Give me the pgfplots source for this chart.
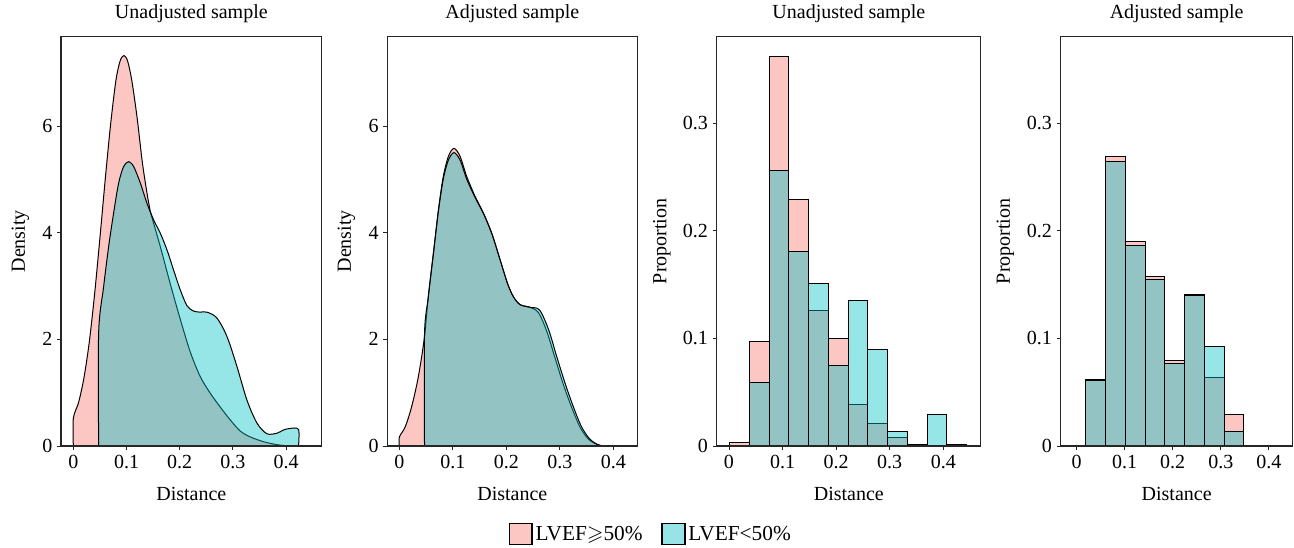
\documentclass[border=0pt]{standalone}
\usepackage{fontspec}
\setmainfont{Liberation Serif}
\usepackage{amssymb}
\usepackage{pgfplots}
\pgfplotsset{compat=1.18}

\definecolor{pinkc}{HTML}{F8766D}
\definecolor{cyanc}{HTML}{00BFC4}

\pgfplotsset{
  panel/.style={
    scale only axis, anchor=south west,
    height=307pt, ymin=0,
    axis line style={black!85, line width=0.8pt},
    tick align=outside, major tick length=3pt,
    tick style={black!85, line width=0.7pt},
    xtick pos=left, ytick pos=left,
    xtick={0,0.1,0.2,0.3,0.4},
    xticklabels={0,0.1,0.2,0.3,0.4},
    font=\fontsize{15}{18}\selectfont,
    ticklabel style={font=\fontsize{15}{18}\selectfont},
    title style={at={(axis description cs:0.5,1.0237)}, anchor=base},
    xlabel={Distance},
    xlabel style={at={(axis description cs:0.5,-0.132)}, anchor=base},
    axis on top,
  },
  denspanel/.style={panel, ymax=7.675, ytick={0,2,4,6}, yticklabels={0,2,4,6}, ylabel={Density}},
  histpanel/.style={panel, ymax=0.3802, ytick={0,0.1,0.2,0.3}, yticklabels={0,0.1,0.2,0.3}, ylabel={Proportion}},
  dens/.style={smooth, tension=0.5, draw=black, line width=0.75pt, fill opacity=0.41},
  hist/.style={ybar interval, draw=black, line width=0.75pt, fill opacity=0.41},
}

\begin{document}
\begin{tikzpicture}
\useasboundingbox (0,0) rectangle (970.5pt,411pt);

% panel 1: density, unadjusted
\begin{axis}[denspanel, at={(45.75pt,76.5pt)}, width=195.5pt,
  xmin=-0.0232, xmax=0.467,
  title={Unadjusted sample},
  ylabel style={at={(axis description cs:-0.156,0.5)}, anchor=center}]
\addplot[dens, fill=pinkc] coordinates {
(0,0) (0,0.52) (0.010,0.82) (0.020,1.28) (0.030,1.95) (0.040,2.85) (0.050,3.90)
(0.060,5.00) (0.070,6.02) (0.080,6.85) (0.088,7.22) (0.095,7.32) (0.102,7.22)
(0.110,6.85) (0.120,6.15) (0.130,5.30) (0.140,4.65) (0.1447,4.40) (0.1635,3.74)
(0.182,3.05) (0.201,2.38) (0.220,1.76) (0.2387,1.30) (0.2575,0.99) (0.2763,0.73)
(0.295,0.49) (0.3139,0.28) (0.3327,0.17) (0.3577,0.08) (0.383,0.025) (0.400,0.005) (0.405,0)
} \closedcycle;
\addplot[dens, fill=cyanc] coordinates {
(0.0476,0) (0.0476,2.12) (0.057,2.99) (0.0664,3.74) (0.0758,4.37) (0.0852,4.93)
(0.0946,5.24) (0.104,5.33) (0.1134,5.24) (0.126,4.93) (0.1385,4.55) (0.151,4.24)
(0.1635,3.99) (0.176,3.68) (0.1885,3.30) (0.201,2.93) (0.2137,2.63) (0.226,2.53)
(0.2385,2.51) (0.2513,2.51) (0.270,2.40) (0.289,2.05) (0.3077,1.49) (0.3265,0.86)
(0.3453,0.43) (0.364,0.23) (0.383,0.24) (0.395,0.30) (0.408,0.33) (0.4235,0.31) (0.4235,0)
} \closedcycle;
\end{axis}

% panel 2: density, adjusted
\begin{axis}[denspanel, at={(290.5pt,76.5pt)}, width=187.5pt,
  xmin=-0.0225, xmax=0.4448,
  title={Adjusted sample},
  ylabel style={at={(axis description cs:-0.164,0.5)}, anchor=center},
  legend columns=2,
  legend style={draw=none, at={(1.0548,-0.215)}, anchor=center,
    font=\fontsize{16}{19}\selectfont,
    /tikz/every even column/.append style={column sep=12pt}},
  legend image code/.code={\draw[#1, line width=1.2pt] (0pt,-8pt) rectangle (17pt,8pt);}]
\addplot[dens, fill=pinkc] coordinates {
(0,0) (0,0.17) (0.011,0.36) (0.023,0.74) (0.0355,1.30) (0.047,2.05) (0.054,2.80)
(0.0636,3.62) (0.073,4.43) (0.082,5.05) (0.0916,5.43) (0.102,5.58) (0.1135,5.43)
(0.126,5.05) (0.1415,4.68) (0.157,4.37) (0.1727,3.99) (0.188,3.50) (0.202,3.05)
(0.213,2.80) (0.2256,2.65) (0.2443,2.60) (0.260,2.50) (0.2755,2.15) (0.291,1.65)
(0.3066,1.15) (0.3222,0.72) (0.3378,0.35) (0.3533,0.13) (0.369,0.03) (0.380,0)
} \closedcycle;
\addplot[dens, fill=cyanc] coordinates {
(0.047,0) (0.047,2.10) (0.054,2.78) (0.0636,3.60) (0.073,4.40) (0.082,5.00)
(0.0916,5.36) (0.102,5.50) (0.1135,5.36) (0.126,5.00) (0.1415,4.66) (0.157,4.36)
(0.1727,3.98) (0.188,3.50) (0.202,3.05) (0.213,2.80) (0.2256,2.65) (0.2443,2.60)
(0.262,2.55) (0.279,2.18) (0.294,1.68) (0.3096,1.18) (0.325,0.74) (0.340,0.37)
(0.355,0.14) (0.370,0.03) (0.381,0)
} \closedcycle;
\legend{LVEF$\geqslant$50\%, LVEF<50\%}
\end{axis}

% panel 3: histogram, unadjusted
\begin{axis}[histpanel, at={(537.5pt,76.5pt)}, width=198.2pt,
  xmin=-0.023, xmax=0.4703,
  title={Unadjusted sample},
  ylabel style={at={(axis description cs:-0.207,0.5)}, anchor=center}]
\addplot[hist, fill=pinkc] coordinates {
(0.001,0.0031) (0.0379,0.0972) (0.0748,0.3616) (0.1117,0.2294) (0.1486,0.1263)
(0.1855,0.0994) (0.2224,0.0390) (0.2593,0.0211) (0.2962,0.0077) (0.3331,0.001)
(0.3700,0) (0.4069,0.001) (0.4438,0)
};
\addplot[hist, fill=cyanc] coordinates {
(0.001,0) (0.0379,0.0594) (0.0748,0.2563) (0.1117,0.1808) (0.1486,0.1505)
(0.1855,0.0746) (0.2224,0.1353) (0.2593,0.0898) (0.2962,0.0136) (0.3331,0)
(0.3700,0.0291) (0.4069,0) (0.4438,0)
};
\end{axis}

% panel 4: histogram, adjusted
\begin{axis}[histpanel, at={(795.5pt,76.5pt)}, width=174pt,
  xmin=-0.0332, xmax=0.4497,
  title={Adjusted sample},
  ylabel style={at={(axis description cs:-0.238,0.5)}, anchor=center}]
\addplot[hist, fill=pinkc] coordinates {
(0.0194,0.0622) (0.0605,0.2693) (0.1016,0.1895) (0.1427,0.1576) (0.1838,0.0793)
(0.2249,0.1406) (0.2660,0.0632) (0.3071,0.0297) (0.3482,0)
};
\addplot[hist, fill=cyanc] coordinates {
(0.0194,0.0607) (0.0605,0.2647) (0.1016,0.1864) (0.1427,0.1548) (0.1838,0.0765)
(0.2249,0.1396) (0.2660,0.0923) (0.3071,0.0136) (0.3482,0)
};
\end{axis}
\end{tikzpicture}
\end{document}
